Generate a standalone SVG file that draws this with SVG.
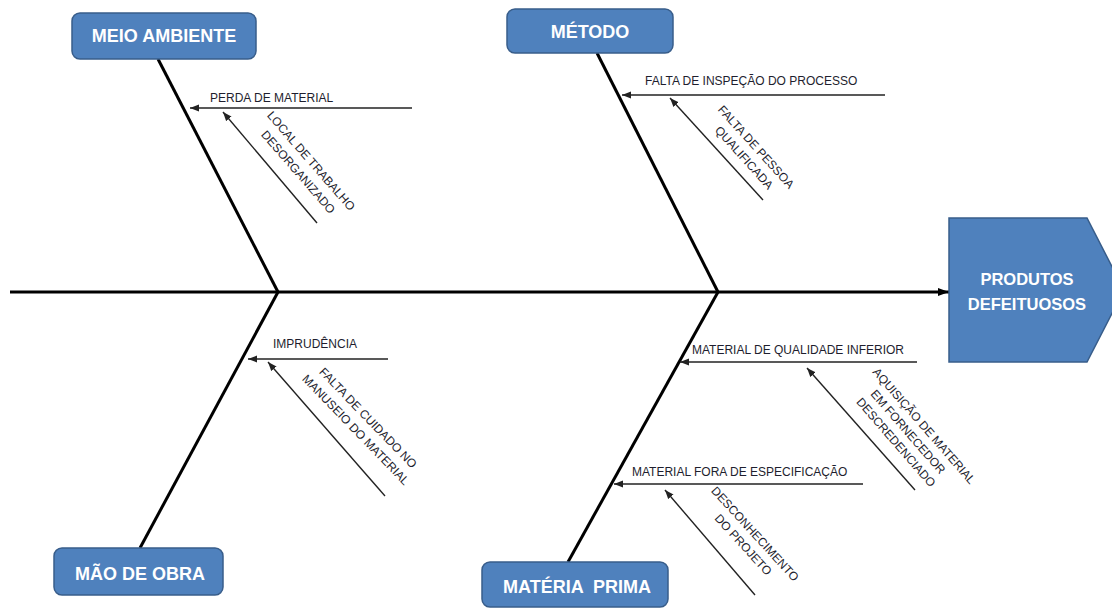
<svg xmlns="http://www.w3.org/2000/svg" width="1112" height="608" viewBox="0 0 1112 608">
<defs>
<style>
.box{fill:#4f81bd;stroke:#385d8a;stroke-width:1.5}
.bt{font-family:"Liberation Sans",Arial,sans-serif;font-weight:bold;font-size:18px;fill:#ffffff;text-anchor:middle}
.bone{stroke:#000;stroke-width:3;fill:none}
.sub{stroke:#222;stroke-width:1.4;fill:none;marker-end:url(#ah)}
.lb{font-family:"Liberation Sans",Arial,sans-serif;font-size:12px;fill:#1e1e2e}
.rl{font-family:"Liberation Sans",Arial,sans-serif;font-size:12px;fill:#1e1e2e;text-anchor:middle}
</style>
<marker id="ah" markerUnits="userSpaceOnUse" markerWidth="10" markerHeight="8" refX="9" refY="4" orient="auto">
<path d="M0,0.5 L9,4 L0,7.5 Z" fill="#222"/>
</marker>
<marker id="big" markerUnits="userSpaceOnUse" markerWidth="12" markerHeight="10" refX="11" refY="5" orient="auto">
<path d="M0,1 L11,5 L0,9 Z" fill="#000"/>
</marker>
</defs>

<g id="connectors">
<line class="bone" x1="10" y1="292" x2="949" y2="292" marker-end="url(#big)"/>
<line class="bone" x1="158" y1="59" x2="278" y2="292"/>
<line class="bone" x1="278" y1="292" x2="140" y2="548"/>
<line class="bone" x1="597" y1="53" x2="718" y2="292"/>
<line class="bone" x1="718" y1="292" x2="568" y2="562"/>

<line class="sub" x1="412" y1="108" x2="190" y2="108"/>
<line class="sub" x1="317" y1="223" x2="223" y2="112"/>
<line class="sub" x1="885" y1="95" x2="622" y2="95"/>
<line class="sub" x1="763" y1="200" x2="670" y2="98"/>
<line class="sub" x1="388" y1="359" x2="248" y2="359"/>
<line class="sub" x1="385" y1="496" x2="268" y2="362"/>
<line class="sub" x1="917" y1="362" x2="680" y2="362"/>
<line class="sub" x1="915" y1="490" x2="807" y2="368"/>
<line class="sub" x1="863" y1="484" x2="614" y2="484"/>
<line class="sub" x1="755" y1="595" x2="665" y2="490"/>
</g>

<g id="meio-ambiente">
<rect class="box" x="72" y="13" width="184" height="46" rx="8"/>
<text class="bt" x="164" y="42">MEIO AMBIENTE</text>
</g>

<g id="metodo">
<rect class="box" x="507" y="9" width="166" height="44" rx="8"/>
<text class="bt" x="590" y="38">MÉTODO</text>
</g>

<g id="mao-de-obra">
<rect class="box" x="54" y="548" width="169" height="47" rx="8"/>
<text class="bt" x="140" y="580">MÃO DE OBRA</text>
</g>

<g id="materia-prima">
<rect class="box" x="482" y="562" width="186" height="45" rx="8"/>
<text class="bt" x="577" y="593" xml:space="preserve">MATÉRIA  PRIMA</text>
</g>

<g id="produtos-defeituosos">
<polygon class="box" points="949,218 1087,218 1124,290 1087,362 949,362"/>
<text class="bt" style="font-size:16.5px" x="1027" y="285">PRODUTOS</text>
<text class="bt" style="font-size:16.5px" x="1027" y="310">DEFEITUOSOS</text>
</g>

<g id="perda-de-material">
<text class="lb" x="210" y="102">PERDA DE MATERIAL</text>
</g>
<g id="local-de-trabalho" transform="translate(311,161) rotate(49)">
<text class="rl"><tspan x="0" y="4">LOCAL DE TRABALHO</tspan><tspan x="0" y="21">DESORGANIZADO</tspan></text>
</g>

<g id="falta-inspecao">
<text class="lb" x="645" y="85">FALTA DE INSPEÇÃO DO PROCESSO</text>
</g>
<g id="falta-pessoa" transform="translate(756,147) rotate(48)">
<text class="rl"><tspan x="0" y="4">FALTA DE PESSOA</tspan><tspan x="0" y="20">QUALIFICADA</tspan></text>
</g>

<g id="imprudencia">
<text class="lb" x="273" y="348">IMPRUDÊNCIA</text>
</g>
<g id="falta-cuidado" transform="translate(368,418) rotate(46)">
<text class="rl"><tspan x="0" y="4">FALTA DE CUIDADO NO</tspan><tspan x="0" y="21">MANUSEIO DO MATERIAL</tspan></text>
</g>

<g id="qualidade-inferior">
<text class="lb" x="692" y="354">MATERIAL DE QUALIDADE INFERIOR</text>
</g>
<g id="aquisicao" transform="translate(924,426) rotate(49)">
<text class="rl"><tspan x="0" y="4">AQUISIÇÃO DE MATERIAL</tspan><tspan x="-6" y="20">EM FORNECEDOR</tspan><tspan x="-6" y="36">DESCREDENCIADO</tspan></text>
</g>

<g id="fora-especificacao">
<text class="lb" x="632" y="476">MATERIAL FORA DE ESPECIFICAÇÃO</text>
</g>
<g id="desconhecimento" transform="translate(755,534) rotate(47.6)">
<text class="rl"><tspan x="0" y="4">DESCONHECIMENTO</tspan><tspan x="0" y="20">DO PROJETO</tspan></text>
</g>
</svg>
